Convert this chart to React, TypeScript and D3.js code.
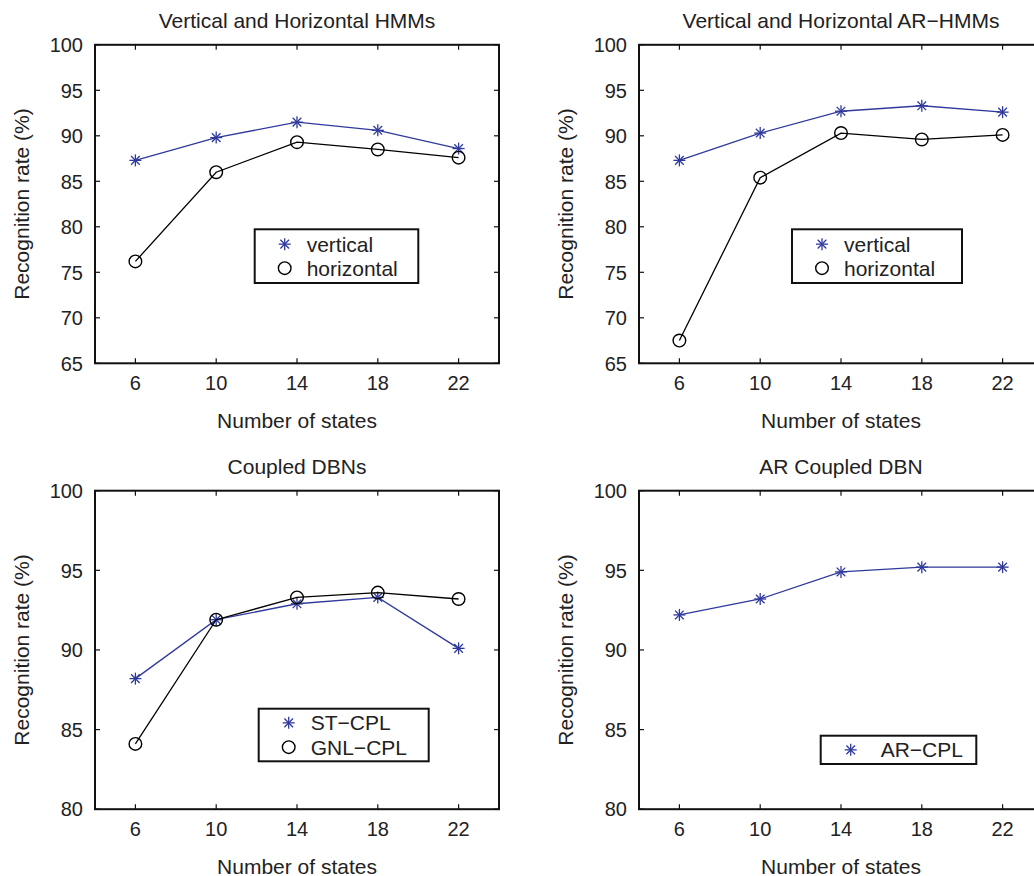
import React from "react";
import * as d3 from "d3";

const states = [6, 10, 14, 18, 22];
const xTicks = [6, 10, 14, 18, 22];

const hmmVertical = [87.3, 89.8, 91.5, 90.6, 88.6];
const hmmHorizontal = [76.2, 86.0, 89.3, 88.5, 87.6];

const arHmmVertical = [87.3, 90.3, 92.7, 93.3, 92.6];
const arHmmHorizontal = [67.5, 85.4, 90.3, 89.6, 90.1];

const stCpl = [88.2, 91.9, 92.9, 93.3, 90.1];
const gnlCpl = [84.1, 91.9, 93.3, 93.6, 93.2];

const arCpl = [92.2, 93.2, 94.9, 95.2, 95.2];

const yTicksTop = [65, 70, 75, 80, 85, 90, 95, 100];
const yTicksBottom = [80, 85, 90, 95, 100];

const BLUE = "#2f3a9c";
const FONT = "'Liberation Sans', Arial, Helvetica, sans-serif";

type Series = { name: string; values: number[]; color: string; marker: "star" | "circle" };

type PanelProps = {
  left: number;
  top: number;
  width: number;
  height: number;
  yDomain: [number, number];
  yTicks: number[];
  title: string;
  series: Series[];
  legend: { x: number; y: number; w: number; h: number; rowH: number };
};

function Star({ x, y, color }: { x: number; y: number; color: string }) {
  const s = 6;
  const d = s * 0.72;
  return (
    <g stroke={color} strokeWidth={1.3}>
      <line x1={x - s} y1={y} x2={x + s} y2={y} />
      <line x1={x} y1={y - s} x2={x} y2={y + s} />
      <line x1={x - d} y1={y - d} x2={x + d} y2={y + d} />
      <line x1={x - d} y1={y + d} x2={x + d} y2={y - d} />
    </g>
  );
}

function Marker({ x, y, s }: { x: number; y: number; s: Series }) {
  if (s.marker === "star") return <Star x={x} y={y} color={s.color} />;
  return <circle cx={x} cy={y} r={6.3} fill="none" stroke={s.color} strokeWidth={1.4} />;
}

function Panel(p: PanelProps) {
  const x = d3.scaleLinear().domain([4, 24]).range([p.left, p.left + p.width]);
  const y = d3.scaleLinear().domain(p.yDomain).range([p.top + p.height, p.top]);
  const line = d3
    .line<number>()
    .x((_, i) => x(states[i]))
    .y((v) => y(v));
  const bottom = p.top + p.height;
  const right = p.left + p.width;
  const tl = 5;
  return (
    <g>
      <text
        x={(p.left + right) / 2}
        y={p.top - 17}
        textAnchor="middle"
        fontSize={21}
        fill="#222"
      >
        {p.title}
      </text>
      {p.series.map((s) => (
        <g key={s.name}>
          <path d={line(s.values) || ""} fill="none" stroke={s.color} strokeWidth={1.3} />
          {s.values.map((v, i) => (
            <Marker key={i} x={x(states[i])} y={y(v)} s={s} />
          ))}
        </g>
      ))}
      <rect
        x={p.left}
        y={p.top}
        width={p.width}
        height={p.height}
        fill="none"
        stroke="#111"
        strokeWidth={2}
      />
      {xTicks.map((t) => (
        <g key={"x" + t}>
          <line x1={x(t)} x2={x(t)} y1={bottom} y2={bottom - tl} stroke="#111" strokeWidth={1.2} />
          <line x1={x(t)} x2={x(t)} y1={p.top} y2={p.top + tl} stroke="#111" strokeWidth={1.2} />
          <text x={x(t)} y={bottom + 27} textAnchor="middle" fontSize={20} fill="#222">
            {t}
          </text>
        </g>
      ))}
      {p.yTicks.map((t) => (
        <g key={"y" + t}>
          <line x1={p.left} x2={p.left + tl} y1={y(t)} y2={y(t)} stroke="#111" strokeWidth={1.2} />
          <line x1={right} x2={right - tl} y1={y(t)} y2={y(t)} stroke="#111" strokeWidth={1.2} />
          <text x={p.left - 12} y={y(t)} dy="0.36em" textAnchor="end" fontSize={20} fill="#222">
            {t}
          </text>
        </g>
      ))}
      <text
        x={(p.left + right) / 2}
        y={bottom + 65}
        textAnchor="middle"
        fontSize={21}
        fill="#222"
      >
        Number of states
      </text>
      <text
        transform={`translate(${p.left - 74},${(p.top + bottom) / 2}) rotate(-90)`}
        textAnchor="middle"
        dy="0.36em"
        fontSize={21}
        fill="#222"
      >
        Recognition rate (%)
      </text>
      <g>
        <rect
          x={p.legend.x}
          y={p.legend.y}
          width={p.legend.w}
          height={p.legend.h}
          fill="#fff"
          stroke="#111"
          strokeWidth={2}
        />
        {p.series.map((s, i) => {
          const cy = p.legend.y + p.legend.h / 2 + (i - (p.series.length - 1) / 2) * p.legend.rowH;
          return (
            <g key={"l" + s.name}>
              <Marker x={p.legend.x + 30} y={cy} s={s} />
              <text
                x={p.legend.x + (p.series.length === 1 ? 60 : 52)}
                y={cy}
                dy="0.36em"
                fontSize={21}
                fill="#222"
              >
                {s.name}
              </text>
            </g>
          );
        })}
      </g>
    </g>
  );
}

export default function App() {
  const W = 1034;
  const H = 876;
  const pw = 404;
  const ph = 318.5;
  return (
    <svg
      width={W}
      height={H}
      style={{ position: "absolute", left: 0, top: 0, background: "#fff" }}
      fontFamily={FONT}
    >
      <rect width={W} height={H} fill="#fff" />
      <Panel
        left={95}
        top={44.8}
        width={pw}
        height={ph}
        yDomain={[65, 100]}
        yTicks={yTicksTop}
        title="Vertical and Horizontal HMMs"
        series={[
          { name: "vertical", values: hmmVertical, color: BLUE, marker: "star" },
          { name: "horizontal", values: hmmHorizontal, color: "#000", marker: "circle" },
        ]}
        legend={{ x: 254.7, y: 229.3, w: 163.6, h: 53.7, rowH: 24 }}
      />
      <Panel
        left={639}
        top={44.8}
        width={pw}
        height={ph}
        yDomain={[65, 100]}
        yTicks={yTicksTop}
        title="Vertical and Horizontal AR−HMMs"
        series={[
          { name: "vertical", values: arHmmVertical, color: BLUE, marker: "star" },
          { name: "horizontal", values: arHmmHorizontal, color: "#000", marker: "circle" },
        ]}
        legend={{ x: 792, y: 229.3, w: 170, h: 53.7, rowH: 24 }}
      />
      <Panel
        left={95}
        top={490.7}
        width={pw}
        height={ph}
        yDomain={[80, 100]}
        yTicks={yTicksBottom}
        title="Coupled DBNs"
        series={[
          { name: "ST−CPL", values: stCpl, color: BLUE, marker: "star" },
          { name: "GNL−CPL", values: gnlCpl, color: "#000", marker: "circle" },
        ]}
        legend={{ x: 258.7, y: 708.7, w: 170, h: 52.6, rowH: 24.3 }}
      />
      <Panel
        left={639}
        top={490.7}
        width={pw}
        height={ph}
        yDomain={[80, 100]}
        yTicks={yTicksBottom}
        title="AR Coupled DBN"
        series={[{ name: "AR−CPL", values: arCpl, color: BLUE, marker: "star" }]}
        legend={{ x: 820.7, y: 735.7, w: 155.6, h: 28.3, rowH: 24 }}
      />
    </svg>
  );
}
